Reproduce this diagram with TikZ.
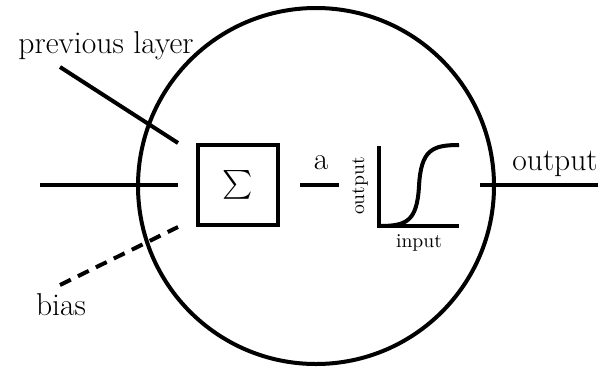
\documentclass[tikz,border=0pt]{standalone}
\usepackage{amsmath}
\usepackage{tikz}
\usetikzlibrary{calc,positioning}

\begin{document}
\begin{tikzpicture}[x=0.5pt,y=-0.5pt,line width=2pt,font=\fontsize{15.8}{19}\selectfont]
    \useasboundingbox (0,0) rectangle (603,370);
    % neuron body and summation
    \node[circle,draw,minimum size=178pt,inner sep=0pt] (neuron) at (316,186) {};
    \node[draw,minimum size=40pt,inner sep=0pt] (sum) at (238,185) {$\sum$};
    % inputs
    \coordinate (in) at (40,185);
    \coordinate (inend) at ([xshift=-9pt]sum.west);
    \node (prev) at (106,46) {previous layer};
    \coordinate (prevstart) at (60,67);
    \coordinate (prevend) at ([xshift=-9pt]sum.north west);
    \node (bias) at (61,305) {bias};
    \coordinate (biasstart) at (60,285);
    \coordinate (biasend) at ([xshift=-9pt]sum.south west);
    \draw (in) -- (inend);
    \draw (prevstart) -- (prevend);
    \draw[dash pattern=on 6pt off 4pt] (biasstart) -- (biasend);
    % activation
    \coordinate (aL) at (300,185);
    \coordinate (aR) at (339,185);
    \node (a) at (321,163) {a};
    \draw (aL) -- (aR);
    \coordinate (origin) at (379,226);
    \coordinate (ytop) at (379,146);
    \coordinate (xend) at (459,226);
    \draw (ytop) -- (origin) -- (xend);
    \draw (origin) .. controls (406,226) and (417,222) .. (419,186)
      .. controls (421,150) and (432,145) .. (459,145);
    \node[rotate=90,font=\fontsize{9.8}{12}\selectfont] (ylab) at (360,186) {output};
    \node[font=\fontsize{9.8}{12}\selectfont] (xlab) at (419,243) {input};
    % output
    \coordinate (outstart) at (480,185);
    \coordinate (outend) at (598,185);
    \draw (outstart) -- (outend);
    \node (out) at (555,164) {output};
\end{tikzpicture}
\end{document}
